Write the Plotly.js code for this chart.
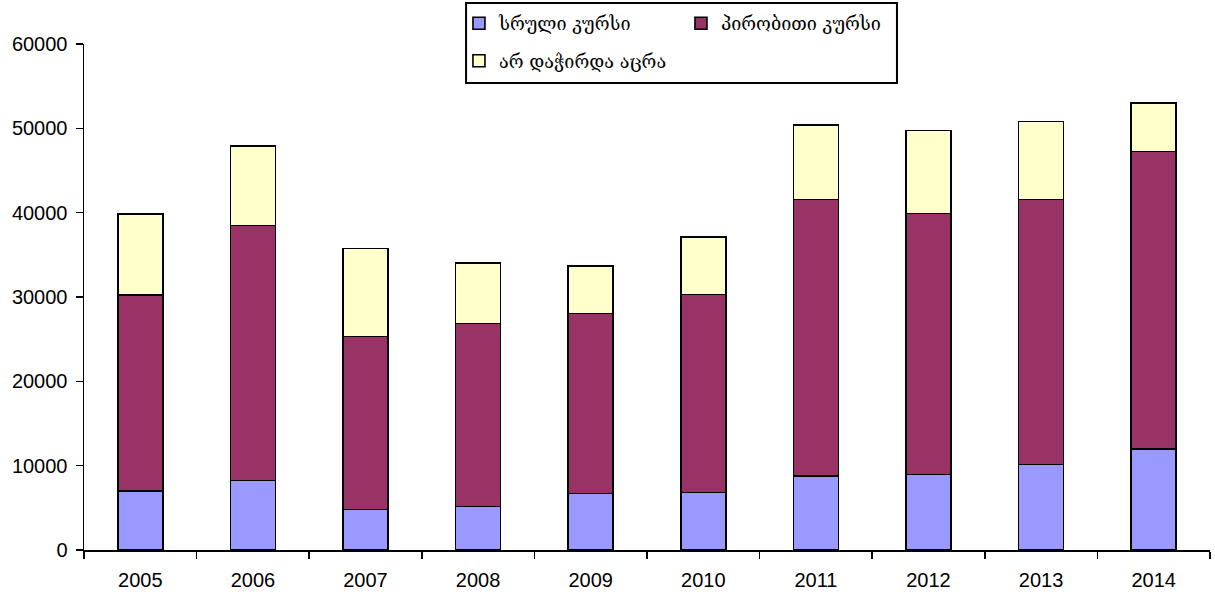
<!DOCTYPE html>
<html>
<head>
<meta charset="utf-8">
<script src="https://cdn.plot.ly/plotly-3.0.1.min.js"></script>
<style>html,body{margin:0;padding:0;background:#fff;}#chart{width:1215px;height:595px;}</style>
</head>
<body>
<div id="chart"></div>
<script>
var years = ['2005','2006','2007','2008','2009','2010','2011','2012','2013','2014'];
var fullCourse = [7030, 8220, 4820, 5180, 6720, 6840, 8780, 8930, 10120, 11980];
var conditionalCourse = [23210, 30280, 20480, 21700, 21340, 23480, 32800, 30990, 31460, 35250];
var notNeeded = [9570, 9410, 10470, 7120, 5620, 6830, 8820, 9800, 9210, 5810];
var names = ['სრული კურსი', 'პირობითი კურსი', 'არ დაჭირდა აცრა'];
var colors = ['#9999FF', '#993366', '#FFFFCC'];
var yTicks = [0, 10000, 20000, 30000, 40000, 50000, 60000];

var series = [fullCourse, conditionalCourse, notNeeded];
var legendIds = ['legend', 'legend', 'legend2'];
var traces = series.map(function(vals, i) {
  return {
    type: 'bar',
    x: years,
    y: vals,
    name: names[i],
    legend: legendIds[i],
    marker: {color: colors[i], line: {color: '#000', width: 1.6}},
    hoverinfo: 'x+y+name'
  };
});

var legendFont = {family: 'DejaVu Serif, DejaVu Sans, serif', size: 18, color: '#000'};
var layout = {
  width: 1215, height: 595,
  margin: {l: 84, r: 5, t: 44, b: 45},
  paper_bgcolor: '#fff', plot_bgcolor: '#fff',
  barmode: 'stack',
  bargap: 0.6,
  font: {family: 'Liberation Sans, Arial, sans-serif', size: 20, color: '#000'},
  xaxis: {
    type: 'category',
    showline: true, linecolor: '#000', linewidth: 1.5,
    ticks: 'outside', ticklen: 7, tickwidth: 1.5, tickcolor: '#000',
    tickson: 'boundaries',
    ticklabelstandoff: 11,
    showgrid: false, zeroline: false,
    tickfont: {size: 20}
  },
  yaxis: {
    range: [0, 60000],
    tickvals: yTicks,
    ticktext: yTicks.map(String),
    showline: true, linecolor: '#000', linewidth: 1.5,
    ticks: 'outside', ticklen: 7, tickwidth: 1.5, tickcolor: '#000',
    ticklabelstandoff: 4,
    showgrid: false, zeroline: false,
    tickfont: {size: 20}
  },
  legend: {
    orientation: 'h', x: 0.333, xanchor: 'left', y: 1.077, yanchor: 'top',
    entrywidth: 177, borderwidth: 0, bgcolor: 'rgba(0,0,0,0)', font: legendFont,
    traceorder: 'normal'
  },
  legend2: {
    orientation: 'h', x: 0.333, xanchor: 'left', y: 1.003, yanchor: 'top',
    borderwidth: 0, bgcolor: 'rgba(0,0,0,0)', font: legendFont
  },
  shapes: [{
    type: 'rect', xref: 'paper', yref: 'paper',
    x0: 0.3393, x1: 0.7220, y0: 0.9229, y1: 1.0810,
    line: {color: '#000', width: 2}, fillcolor: '#fff', layer: 'above'
  }],
  showlegend: true
};

Plotly.newPlot('chart', traces, layout, {displayModeBar: false, staticPlot: true});
</script>
</body>
</html>
